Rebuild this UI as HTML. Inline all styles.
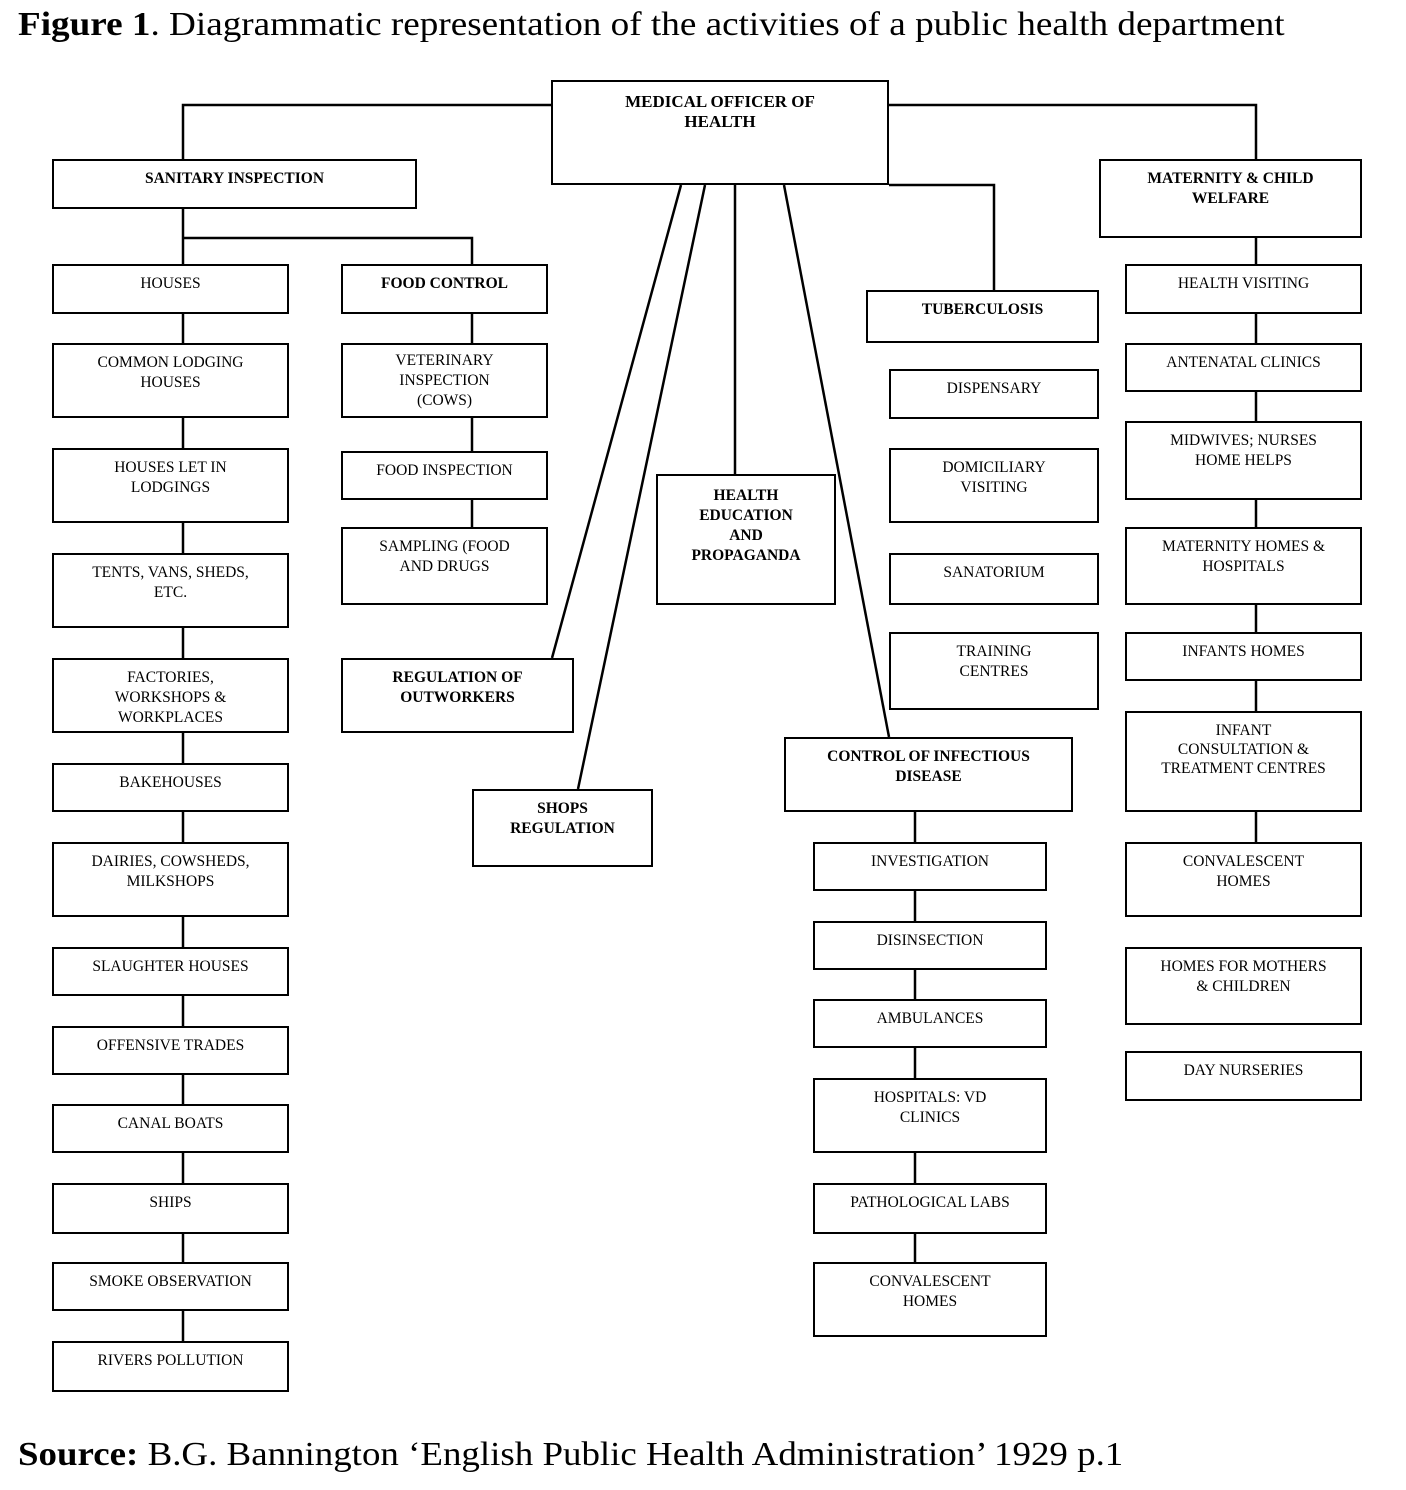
<!DOCTYPE html>
<html><head><meta charset="utf-8"><style>
body{margin:0;width:1406px;height:1490px;background:#fff;position:relative;font-family:"Liberation Serif",serif;color:#000;overflow:hidden}
.b{position:absolute;border:2.5px solid #000;box-sizing:border-box;text-align:center;font-size:15.5px;line-height:20px;padding-top:8px}
.k{font-weight:bold}
svg{position:absolute;left:0;top:0}
</style></head><body>
<div style="position:absolute;left:18px;top:6px;font-size:34px;white-space:nowrap;transform-origin:0 0;transform:scaleX(1.093)">
<b>Figure 1</b>. Diagrammatic representation of the activities of a public health department</div>
<div style="position:absolute;left:18px;top:1436px;font-size:34px;white-space:nowrap;transform-origin:0 0;transform:scaleX(1.086)"><b>Source:</b> B.G. Bannington ‘English Public Health Administration’ 1929 p.1</div>
<svg width="1406" height="1490"><g stroke="#000" stroke-width="2.5" fill="none">
<polyline points="551,105 183,105 183,159"/>
<polyline points="889,105 1256,105 1256,159"/>
<line x1="183" y1="209" x2="183" y2="264"/>
<polyline points="183,238 472,238 472,264"/>
<line x1="183" y1="314" x2="183" y2="343"/><line x1="183" y1="418" x2="183" y2="448"/>
<line x1="183" y1="523" x2="183" y2="553"/><line x1="183" y1="628" x2="183" y2="658"/>
<line x1="183" y1="733" x2="183" y2="763"/><line x1="183" y1="812" x2="183" y2="842"/>
<line x1="183" y1="917" x2="183" y2="947"/><line x1="183" y1="996" x2="183" y2="1026"/>
<line x1="183" y1="1075" x2="183" y2="1104"/><line x1="183" y1="1153" x2="183" y2="1183"/>
<line x1="183" y1="1234" x2="183" y2="1262"/><line x1="183" y1="1311" x2="183" y2="1341"/>
<line x1="472" y1="314" x2="472" y2="343"/><line x1="472" y1="418" x2="472" y2="451"/><line x1="472" y1="500" x2="472" y2="527"/>
<line x1="1256" y1="238" x2="1256" y2="264"/><line x1="1256" y1="314" x2="1256" y2="343"/>
<line x1="1256" y1="392" x2="1256" y2="421"/><line x1="1256" y1="500" x2="1256" y2="527"/>
<line x1="1256" y1="605" x2="1256" y2="632"/><line x1="1256" y1="681" x2="1256" y2="711"/>
<line x1="1256" y1="812" x2="1256" y2="842"/>
<polyline points="889,185 994,185 994,290"/>
<line x1="735" y1="185" x2="735" y2="474"/>
<line x1="681" y1="185" x2="552" y2="658"/>
<line x1="705" y1="185" x2="578" y2="789"/>
<line x1="784" y1="185" x2="889" y2="737"/>
<line x1="915" y1="812" x2="915" y2="842"/><line x1="915" y1="891" x2="915" y2="921"/>
<line x1="915" y1="970" x2="915" y2="999"/><line x1="915" y1="1048" x2="915" y2="1078"/>
<line x1="915" y1="1153" x2="915" y2="1183"/><line x1="915" y1="1234" x2="915" y2="1262"/>
</g></svg>
<div class="b k" style="left:551px;top:80px;width:338px;height:105px;font-size:17px;padding-top:10px">MEDICAL OFFICER OF<br>HEALTH</div>
<div class="b k" style="left:52px;top:159px;width:365px;height:50px">SANITARY INSPECTION</div>
<div class="b k" style="left:1099px;top:159px;width:263px;height:79px">MATERNITY &amp; CHILD<br>WELFARE</div>

<div class="b" style="left:52px;top:264px;width:237px;height:50px">HOUSES</div>
<div class="b" style="left:52px;top:343px;width:237px;height:75px">COMMON LODGING<br>HOUSES</div>
<div class="b" style="left:52px;top:448px;width:237px;height:75px">HOUSES LET IN<br>LODGINGS</div>
<div class="b" style="left:52px;top:553px;width:237px;height:75px">TENTS, VANS, SHEDS,<br>ETC.</div>
<div class="b" style="left:52px;top:658px;width:237px;height:75px">FACTORIES,<br>WORKSHOPS &amp;<br>WORKPLACES</div>
<div class="b" style="left:52px;top:763px;width:237px;height:49px">BAKEHOUSES</div>
<div class="b" style="left:52px;top:842px;width:237px;height:75px">DAIRIES, COWSHEDS,<br>MILKSHOPS</div>
<div class="b" style="left:52px;top:947px;width:237px;height:49px">SLAUGHTER HOUSES</div>
<div class="b" style="left:52px;top:1026px;width:237px;height:49px">OFFENSIVE TRADES</div>
<div class="b" style="left:52px;top:1104px;width:237px;height:49px">CANAL BOATS</div>
<div class="b" style="left:52px;top:1183px;width:237px;height:51px">SHIPS</div>
<div class="b" style="left:52px;top:1262px;width:237px;height:49px">SMOKE OBSERVATION</div>
<div class="b" style="left:52px;top:1341px;width:237px;height:51px">RIVERS POLLUTION</div>

<div class="b k" style="left:341px;top:264px;width:207px;height:50px">FOOD CONTROL</div>
<div class="b" style="left:341px;top:343px;width:207px;height:75px;padding-top:6px">VETERINARY<br>INSPECTION<br>(COWS)</div>
<div class="b" style="left:341px;top:451px;width:207px;height:49px">FOOD INSPECTION</div>
<div class="b" style="left:341px;top:527px;width:207px;height:78px">SAMPLING (FOOD<br>AND DRUGS</div>
<div class="b k" style="left:341px;top:658px;width:233px;height:75px">REGULATION OF<br>OUTWORKERS</div>
<div class="b k" style="left:472px;top:789px;width:181px;height:78px">SHOPS<br>REGULATION</div>
<div class="b k" style="left:656px;top:474px;width:180px;height:131px;padding-top:10px">HEALTH<br>EDUCATION<br>AND<br>PROPAGANDA</div>

<div class="b k" style="left:866px;top:290px;width:233px;height:53px">TUBERCULOSIS</div>
<div class="b" style="left:889px;top:369px;width:210px;height:50px">DISPENSARY</div>
<div class="b" style="left:889px;top:448px;width:210px;height:75px">DOMICILIARY<br>VISITING</div>
<div class="b" style="left:889px;top:553px;width:210px;height:52px">SANATORIUM</div>
<div class="b" style="left:889px;top:632px;width:210px;height:78px">TRAINING<br>CENTRES</div>

<div class="b k" style="left:784px;top:737px;width:289px;height:75px">CONTROL OF INFECTIOUS<br>DISEASE</div>
<div class="b" style="left:813px;top:842px;width:234px;height:49px">INVESTIGATION</div>
<div class="b" style="left:813px;top:921px;width:234px;height:49px">DISINSECTION</div>
<div class="b" style="left:813px;top:999px;width:234px;height:49px">AMBULANCES</div>
<div class="b" style="left:813px;top:1078px;width:234px;height:75px">HOSPITALS: VD<br>CLINICS</div>
<div class="b" style="left:813px;top:1183px;width:234px;height:51px">PATHOLOGICAL LABS</div>
<div class="b" style="left:813px;top:1262px;width:234px;height:75px">CONVALESCENT<br>HOMES</div>

<div class="b" style="left:1125px;top:264px;width:237px;height:50px">HEALTH VISITING</div>
<div class="b" style="left:1125px;top:343px;width:237px;height:49px">ANTENATAL CLINICS</div>
<div class="b" style="left:1125px;top:421px;width:237px;height:79px">MIDWIVES; NURSES<br>HOME HELPS</div>
<div class="b" style="left:1125px;top:527px;width:237px;height:78px">MATERNITY HOMES &amp;<br>HOSPITALS</div>
<div class="b" style="left:1125px;top:632px;width:237px;height:49px">INFANTS HOMES</div>
<div class="b" style="left:1125px;top:711px;width:237px;height:101px;line-height:19px">INFANT<br>CONSULTATION &amp;<br>TREATMENT CENTRES</div>
<div class="b" style="left:1125px;top:842px;width:237px;height:75px">CONVALESCENT<br>HOMES</div>
<div class="b" style="left:1125px;top:947px;width:237px;height:78px">HOMES FOR MOTHERS<br>&amp; CHILDREN</div>
<div class="b" style="left:1125px;top:1051px;width:237px;height:50px">DAY NURSERIES</div>
</body></html>
